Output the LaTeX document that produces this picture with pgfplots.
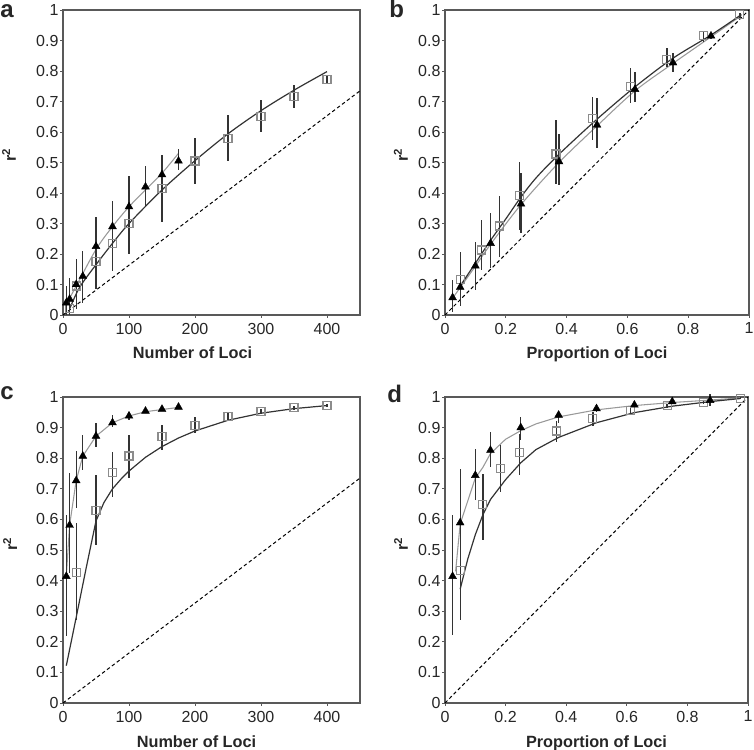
\documentclass[border=0pt]{standalone}
\usepackage{fontspec}
\setmainfont{Liberation Sans}
\usepackage{pgfplots}
\pgfplotsset{compat=1.18}
\usepackage{pgfplotstable}

\definecolor{lgray}{gray}{0.6}
\definecolor{sqgray}{gray}{0.55}
\definecolor{dgray}{gray}{0.2}
\definecolor{frame}{gray}{0.35}

% ---------- panel a ----------
\pgfplotstableread{
x y lo hi
5 0.040 0.000 0.095
10 0.052 0.010 0.100
20 0.100 0.020 0.185
30 0.127 0.040 0.210
50 0.225 0.130 0.320
75 0.290 0.200 0.375
100 0.355 0.250 0.455
125 0.420 0.355 0.490
150 0.460 0.400 0.525
175 0.505 0.475 0.545
}\atri
\pgfplotstableread{
x y lo hi
10 0.020 0.000 0.120
20 0.095 0.030 0.160
50 0.175 0.085 0.270
75 0.235 0.145 0.330
100 0.300 0.200 0.400
150 0.415 0.305 0.510
200 0.505 0.430 0.580
250 0.578 0.505 0.655
300 0.650 0.600 0.705
350 0.716 0.680 0.755
400 0.772 0.760 0.785
}\asq
% ---------- panel b ----------
\pgfplotstableread{
x y lo hi
0.025 0.057 0.010 0.115
0.05 0.091 0.040 0.150
0.10 0.161 0.082 0.240
0.15 0.235 0.153 0.335
0.25 0.364 0.268 0.467
0.375 0.503 0.426 0.595
0.5 0.623 0.547 0.710
0.625 0.740 0.699 0.798
0.75 0.827 0.798 0.858
0.875 0.915 0.905 0.925
}\btri
\pgfplotstableread{
x y lo hi
0.05 0.117 0.030 0.205
0.12 0.213 0.147 0.310
0.18 0.292 0.190 0.390
0.245 0.391 0.280 0.503
0.365 0.528 0.430 0.640
0.485 0.645 0.575 0.715
0.61 0.749 0.694 0.809
0.73 0.838 0.814 0.874
0.85 0.915 0.896 0.930
0.97 0.984 0.975 0.990
}\bsq
% ---------- panel c ----------
\pgfplotstableread{
x y lo hi
5 0.414 0.218 0.616
10 0.581 0.424 0.752
20 0.727 0.636 0.823
30 0.807 0.761 0.876
50 0.872 0.838 0.914
75 0.916 0.903 0.941
100 0.938 0.925 0.950
125 0.954 0.948 0.960
150 0.960 0.955 0.965
175 0.967 0.962 0.972
}\ctri
\pgfplotstableread{
x y lo hi
20 0.427 0.271 0.587
50 0.629 0.516 0.745
75 0.752 0.674 0.821
100 0.807 0.735 0.875
150 0.872 0.827 0.908
200 0.908 0.883 0.935
250 0.935 0.920 0.948
300 0.954 0.945 0.962
350 0.965 0.958 0.970
400 0.973 0.968 0.978
}\csq
% ---------- panel d ----------
\pgfplotstableread{
x y lo hi
0.025 0.414 0.222 0.614
0.05 0.589 0.420 0.764
0.10 0.744 0.663 0.829
0.15 0.826 0.772 0.887
0.25 0.900 0.860 0.936
0.375 0.941 0.915 0.955
0.5 0.962 0.950 0.972
0.625 0.974 0.965 0.982
0.75 0.985 0.978 0.990
0.875 0.989 0.970 1.010
}\dtri
\pgfplotstableread{
x y lo hi
0.05 0.433 0.271 0.550
0.125 0.649 0.533 0.750
0.184 0.766 0.690 0.843
0.246 0.818 0.745 0.880
0.367 0.889 0.854 0.920
0.488 0.929 0.905 0.950
0.612 0.956 0.945 0.965
0.733 0.971 0.963 0.978
0.854 0.981 0.976 0.986
0.976 0.996 0.992 1.000
}\dsq

\pgfplotsset{
  panel/.style={
    scale only axis,
    ymin=0, ymax=1,
    ytick={0,0.1,0.2,0.3,0.4,0.5,0.6,0.7,0.8,0.9,1},
    axis line style={frame, line width=0.8pt},
    tick style={frame, line width=0.6pt},
    tick align=outside, major tick length=2.2pt,
    xtick pos=left, ytick pos=left,
    ticklabel style={font=\fontsize{12}{14}\selectfont, text=black!85},
    yticklabel style={inner sep=1pt},
    xticklabel style={inner sep=3.5pt},
    /pgf/number format/assume math mode=true,
    label style={font=\bfseries\fontsize{12.2}{14}\selectfont, text=black!85},
    clip=false,
  },
  numx/.style={xmin=0, xmax=450, xtick={0,100,200,300,400}, xlabel={Number of Loci}},
  propx/.style={xmin=0, xmax=1, xtick={0,0.2,0.4,0.6,0.8,1}, xlabel={Proportion of Loci}},
  tri/.style={only marks, mark=triangle*, mark size=3.4pt,
    mark options={fill=black, draw=black, line width=0.3pt},
    error bars/y dir=both, error bars/y explicit, error bars/error mark=none,
    error bars/error bar style={black!80, line width=0.95pt}},
  sq/.style={only marks, mark=square, mark size=3.0pt,
    mark options={draw=sqgray, line width=0.85pt, fill=none},
    error bars/y dir=both, error bars/y explicit, error bars/error mark=none,
    error bars/error bar style={black!80, line width=0.95pt}},
  lfit/.style={lgray, line width=0.8pt, smooth, no marks},
  dfit/.style={dgray, line width=0.9pt, smooth, no marks},
  lfitp/.style={lgray, line width=0.8pt, no marks},
  dfitp/.style={dgray, line width=0.9pt, no marks},
  diag/.style={black, line width=0.75pt, dash pattern=on 2.6pt off 2pt, no marks},
  /pgfplots/table/errtab/.style={x=x, y=y, y error plus expr=\thisrow{hi}-\thisrow{y}, y error minus expr=\thisrow{y}-\thisrow{lo}},
}

\begin{document}
\begin{tikzpicture}
\useasboundingbox (0,0) rectangle (565.5pt,-562.5pt);

% ---------------- a ----------------
\begin{axis}[panel, numx, at={(47.25pt,-7.5pt)}, anchor=north west,
  width=222.75pt, height=228.75pt, ylabel={r\textsuperscript{2}},
  ylabel style={at={(axis description cs:-0.182,0.525)}, anchor=center},
  xlabel style={at={(axis description cs:0.5,0)}, anchor=base, yshift=-32.25pt, xshift=-14.25pt}]
\addplot[diag] coordinates {(0,0) (450,0.735)};
\addplot[lfit] coordinates {(5,0.035) (20,0.095) (50,0.215) (75,0.29) (100,0.355) (125,0.41) (150,0.465) (175,0.53)};
\addplot[dfit] coordinates {(10,0.02) (25,0.09) (50,0.165) (75,0.235) (100,0.30) (150,0.41) (200,0.506) (250,0.594) (300,0.670) (350,0.737) (400,0.798)};
\addplot[sq] table[errtab] {\asq};
\addplot[tri] table[errtab] {\atri};
\end{axis}

% ---------------- b ----------------
\begin{axis}[panel, propx, at={(333.75pt,-7.5pt)}, anchor=north west,
  width=228pt, height=228.75pt, ylabel={r\textsuperscript{2}},
  ylabel style={at={(axis description cs:-0.145,0.525)}, anchor=center},
  xlabel style={at={(axis description cs:0.5,0)}, anchor=base, yshift=-32.25pt}]
\addplot[diag] coordinates {(0,0) (1,1)};
\addplot[lfit] coordinates {(0.025,0.055) (0.05,0.09) (0.1,0.16) (0.15,0.232) (0.25,0.362) (0.375,0.50) (0.5,0.62) (0.625,0.735) (0.75,0.825) (0.875,0.912) (0.975,0.982)};
\addplot[dfit] coordinates {(0.05,0.095) (0.1,0.17) (0.15,0.245) (0.2,0.315) (0.25,0.387) (0.3,0.45) (0.375,0.527) (0.5,0.642) (0.625,0.748) (0.75,0.842) (0.875,0.918) (0.975,0.985)};
\addplot[sq] table[errtab] {\bsq};
\addplot[tri] table[errtab] {\btri};
\end{axis}

% ---------------- c ----------------
\begin{axis}[panel, numx, at={(47.25pt,-297.75pt)}, anchor=north west,
  width=222.75pt, height=229.5pt, ylabel={r\textsuperscript{2}},
  ylabel style={at={(axis description cs:-0.178,0.52)}, anchor=center},
  xlabel style={at={(axis description cs:0.5,0)}, anchor=base, yshift=-33pt, xshift=-11.25pt}]
\addplot[diag] coordinates {(0,0) (450,0.735)};
\addplot[lfitp] coordinates {(5,0.414) (10,0.581) (20,0.727) (30,0.807) (50,0.872) (75,0.916) (100,0.938) (125,0.952) (150,0.959) (175,0.966)};
\addplot[dfitp] coordinates {(5,0.122) (20,0.28) (35,0.44) (50,0.595) (62,0.655) (75,0.70) (88,0.732) (100,0.758) (125,0.803) (150,0.838) (175,0.866) (200,0.889) (250,0.924) (300,0.947) (350,0.962) (400,0.972)};
\addplot[sq] table[errtab] {\csq};
\addplot[tri] table[errtab] {\ctri};
\end{axis}

% ---------------- d ----------------
\begin{axis}[panel, propx, at={(333.75pt,-297.75pt)}, anchor=north west,
  width=227.25pt, height=229.5pt, ylabel={r\textsuperscript{2}},
  ylabel style={at={(axis description cs:-0.145,0.52)}, anchor=center},
  xlabel style={at={(axis description cs:0.5,0)}, anchor=base, yshift=-33pt}]
\addplot[diag] coordinates {(0,0) (1,1)};
\addplot[lfitp] coordinates {(0.035,0.43) (0.05,0.585) (0.1,0.735) (0.125,0.77) (0.15,0.815) (0.2,0.862) (0.25,0.89) (0.3,0.912) (0.375,0.935) (0.5,0.958) (0.625,0.972) (0.75,0.982) (0.875,0.99) (0.975,0.997)};
\addplot[dfitp] coordinates {(0.05,0.372) (0.075,0.47) (0.1,0.55) (0.125,0.615) (0.15,0.665) (0.2,0.73) (0.25,0.785) (0.3,0.828) (0.375,0.868) (0.5,0.916) (0.625,0.949) (0.75,0.970) (0.875,0.985) (0.975,0.995)};
\addplot[sq] table[errtab] {\dsq};
\addplot[tri] table[errtab] {\dtri};
\end{axis}

\node[anchor=base west, inner sep=0pt, font=\bfseries\fontsize{18}{18}\selectfont, text=black!85] at (0pt,-12.75pt) {a};
\node[anchor=base west, inner sep=0pt, font=\bfseries\fontsize{18}{18}\selectfont, text=black!85] at (291.75pt,-12.75pt) {b};
\node[anchor=base west, inner sep=0pt, font=\bfseries\fontsize{18}{18}\selectfont, text=black!85] at (0pt,-299.25pt) {c};
\node[anchor=base west, inner sep=0pt, font=\bfseries\fontsize{18}{18}\selectfont, text=black!85] at (290.25pt,-301.5pt) {d};
\end{tikzpicture}
\end{document}
